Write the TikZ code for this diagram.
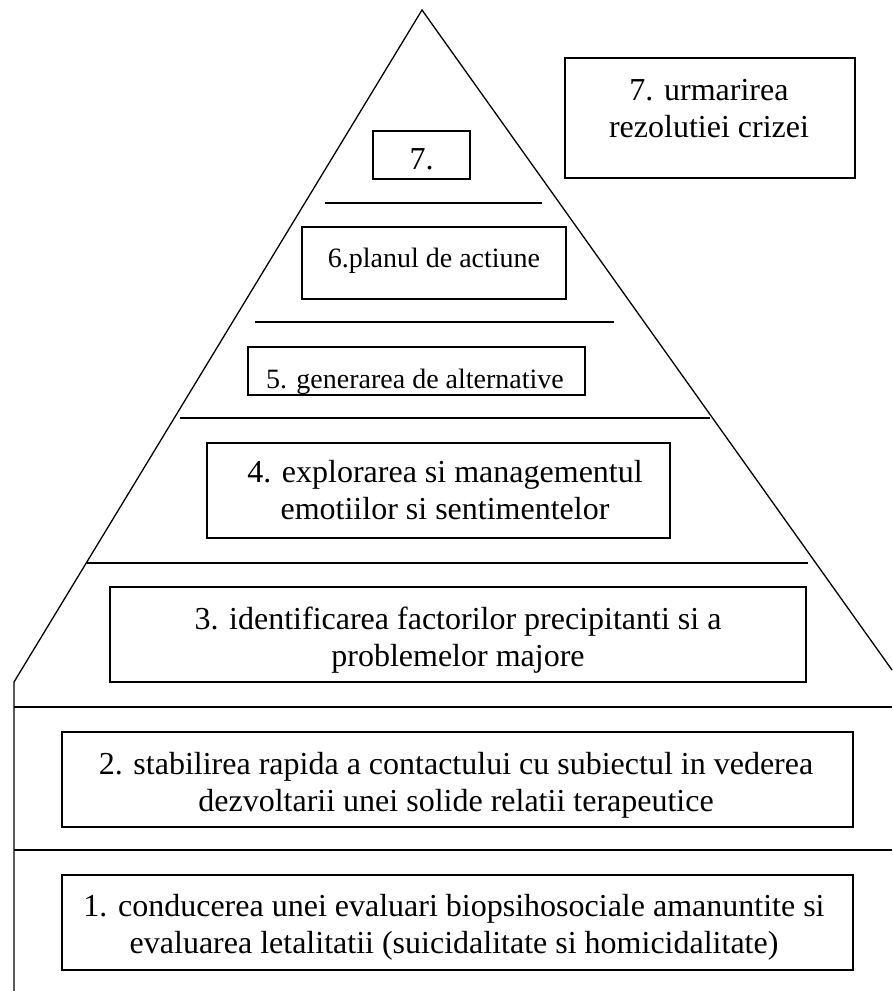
\documentclass[tikz,border=0pt]{standalone}
\usepackage{fontspec}
\setmainfont{Liberation Serif}
\begin{document}
\begin{tikzpicture}[x=1pt,y=-1pt,
  box/.style={draw,line width=1.6pt,inner sep=0pt,rectangle},
  sep/.style={line width=1.6pt},
  tri/.style={line width=1.3pt,line join=miter},
  big/.style={inner sep=0pt,anchor=base,font=\fontsize{32}{37}\selectfont},
  small/.style={inner sep=0pt,anchor=base,font=\fontsize{28}{32}\selectfont}]
\useasboundingbox (0,0) rectangle (892,991);
% pyramid outline
\coordinate (apex) at (422,10);
\coordinate (lc) at (14,682);
\coordinate (rc) at (892,670);
\coordinate (lb) at (14,991);
\draw[tri] (lb) -- (lc) -- (apex) -- (rc);
% separators
\coordinate (s1a) at (325,203); \coordinate (s1b) at (542,203);
\coordinate (s2a) at (255,322); \coordinate (s2b) at (614,322);
\coordinate (s3a) at (180,418); \coordinate (s3b) at (710,418);
\coordinate (s4a) at (87,563);  \coordinate (s4b) at (808,563);
\coordinate (s5a) at (14,707);  \coordinate (s5b) at (892,707);
\coordinate (s6a) at (14,850);  \coordinate (s6b) at (892,850);
\draw[sep] (s1a) -- (s1b);
\draw[sep] (s2a) -- (s2b);
\draw[sep] (s3a) -- (s3b);
\draw[sep] (s4a) -- (s4b);
\draw[sep] (s5a) -- (s5b);
\draw[sep] (s6a) -- (s6b);
% boxes
\node[box,minimum width=290pt,minimum height=120pt] (r7) at (710,118) {};
\node[box,minimum width=97pt,minimum height=48pt] (b7) at (421.5,155) {};
\node[box,minimum width=264pt,minimum height=72pt] (b6) at (434,263) {};
\node[box,minimum width=337pt,minimum height=48pt] (b5) at (416.5,371) {};
\node[box,minimum width=463pt,minimum height=95pt] (b4) at (438.5,490.5) {};
\node[box,minimum width=696pt,minimum height=95pt] (b3) at (458,634.5) {};
\node[box,minimum width=791pt,minimum height=95pt] (b2) at (457.5,779.5) {};
\node[box,minimum width=791pt,minimum height=95pt] (b1) at (457.5,922.5) {};
% texts
\node[big] (t7a) at (709,100) {7. urmarirea};
\node[big] (t7b) at (709,137) {rezolutiei crizei};
\node[big] (t7) at (421.5,169) {7.};
\node[small] (t6) at (434,267) {6.planul de actiune};
\node[small] (t5) at (415,388) {5. generarea de alternative};
\node[big] (t4a) at (445,482) {4. explorarea si managementul};
\node[big] (t4b) at (445,519) {emotiilor si sentimentelor};
\node[big] (t3a) at (458,629) {3. identificarea factorilor precipitanti si a};
\node[big] (t3b) at (458,666) {problemelor majore};
\node[big] (t2a) at (456,774) {2. stabilirea rapida a contactului cu subiectul in vederea};
\node[big] (t2b) at (456,811) {dezvoltarii unei solide relatii terapeutice};
\node[big] (t1a) at (454,916) {1. conducerea unei evaluari biopsihosociale amanuntite si};
\node[big] (t1b) at (454,953) {evaluarea letalitatii (suicidalitate si homicidalitate)};
\end{tikzpicture}
\end{document}
